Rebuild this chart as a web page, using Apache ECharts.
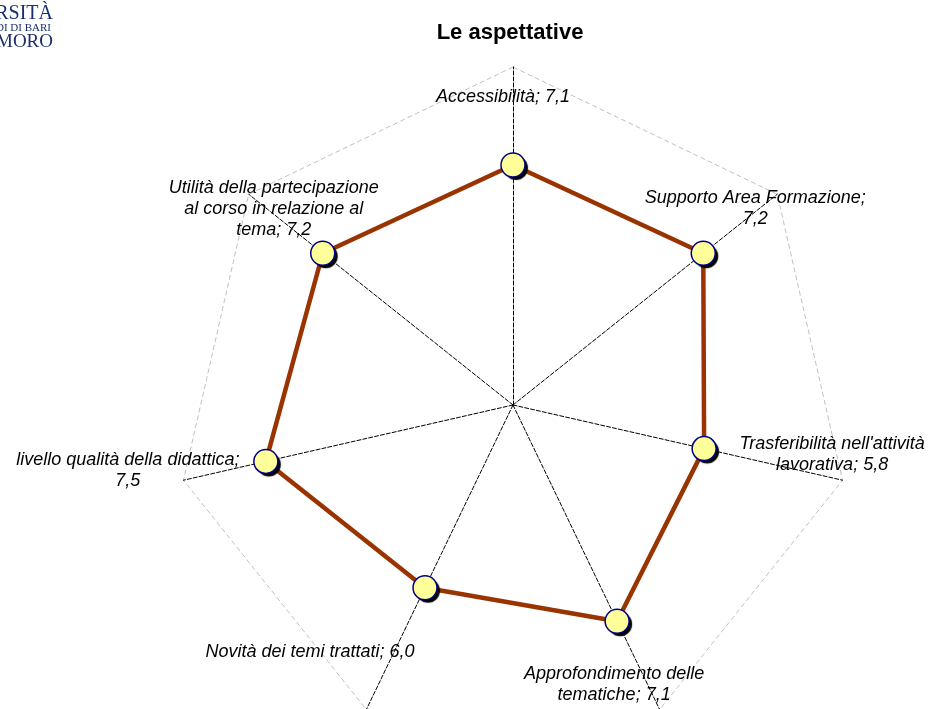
<!DOCTYPE html>
<html>
<head>
<meta charset="utf-8">
<script src="https://cdn.jsdelivr.net/npm/echarts@6/dist/echarts.min.js"></script>
<style>
html, body { margin: 0; padding: 0; background: #fff; }
#chart { width: 933px; height: 709px; }
</style>
</head>
<body>
<div id="chart"></div>
<script>
// categories, clockwise from the top
var categories = [
    'Accessibilità',
    'Supporto Area Formazione',
    "Trasferibilità nell'attività lavorativa",
    'Approfondimento delle tematiche',
    'Novità dei temi trattati',
    'livello qualità della didattica',
    'Utilità della partecipazione al corso in relazione al tema'
];
// label text as broken in the picture
var labelLines = [
    'Accessibilità; 7,1',
    'Supporto Area Formazione;\n7,2',
    "Trasferibilità nell'attività\nlavorativa; 5,8",
    'Approfondimento delle\ntematiche; 7,1',
    'Novità dei temi trattati; 6,0',
    'livello qualità della didattica;\n7,5',
    'Utilità della partecipazione\nal corso in relazione al\ntema; 7,2'
];
var values = [7.1, 7.2, 5.8, 7.1, 6.0, 7.5, 7.2];
var maxValue = 10;

var cx = 513, cy = 405, R = 338;
// label offsets from each point (px)
var labelOffsets = [[-10, -68], [52, -45], [128, 6], [-3, 63], [-115, 64], [-138, 9], [-49, -44]];

// echarts lays radar indicators out counter-clockwise, so reverse after the first
var order = [0, 6, 5, 4, 3, 2, 1];
var radarValues = order.map(function (k) { return values[k]; });

var myChart = echarts.init(document.getElementById('chart'));

var graphics = [];
var n = categories.length;
for (var i = 0; i < n; i++) {
    var a = i * 2 * Math.PI / n;
    var r = R * values[i] / maxValue;
    var px = cx + r * Math.sin(a);
    var py = cy - r * Math.cos(a);
    graphics.push({
        type: 'text',
        x: px + labelOffsets[i][0],
        y: py + labelOffsets[i][1],
        z: 100,
        style: {
            text: labelLines[i],
            font: 'italic 18px "Liberation Sans", Arial, sans-serif',
            fill: '#000',
            textAlign: 'center',
            textVerticalAlign: 'middle',
            lineHeight: 21
        }
    });
}
// cut-off logo in the corner
graphics.push(
    { type: 'text', x: 53, y: 14, style: { text: 'UNIVERSITÀ', font: '20px "Liberation Serif", serif', fill: '#1b2f6e', textAlign: 'right', textVerticalAlign: 'middle' } },
    { type: 'text', x: 51, y: 28, style: { text: 'DEGLI STUDI DI BARI', font: '11px "Liberation Serif", serif', fill: '#1b2f6e', textAlign: 'right', textVerticalAlign: 'middle' } },
    { type: 'text', x: 53, y: 42, style: { text: 'ALDO MORO', font: '19px "Liberation Serif", serif', fill: '#1b2f6e', textAlign: 'right', textVerticalAlign: 'middle' } }
);

var option = {
    animation: false,
    title: {
        text: 'Le aspettative',
        left: 505,
        top: 17,
        textAlign: 'center',
        textStyle: {
            fontFamily: '"Liberation Sans", Arial, sans-serif',
            fontWeight: 'bold',
            fontSize: 22,
            color: '#000'
        }
    },
    radar: {
        center: [cx, cy],
        radius: R,
        startAngle: 90,
        shape: 'polygon',
        splitNumber: 1,
        indicator: order.map(function (k) { return { name: categories[k], min: 0, max: maxValue }; }),
        axisName: { show: false },
        axisLine: { lineStyle: { color: '#000', type: [4, 2], width: 1 } },
        splitLine: { lineStyle: { color: '#c0c0c0', type: [5, 3], width: 1 } },
        splitArea: { show: false },
        axisTick: { show: false },
        axisLabel: { show: false }
    },
    series: [{
        // line + filled markers with their shadow
        type: 'radar',
        symbol: 'circle',
        symbolSize: 24,
        lineStyle: { color: '#993300', width: 4.5 },
        itemStyle: {
            color: '#FFFF99',
            borderWidth: 0,
            shadowColor: '#000',
            shadowOffsetX: 3,
            shadowOffsetY: 3,
            shadowBlur: 1
        },
        data: [{ name: 'Le aspettative', value: radarValues }]
    }, {
        // marker outlines only
        type: 'radar',
        silent: true,
        symbol: 'circle',
        symbolSize: 24,
        lineStyle: { opacity: 0 },
        itemStyle: {
            color: 'rgba(0,0,0,0)',
            borderColor: '#000080',
            borderWidth: 1.5
        },
        data: [{ name: 'Le aspettative', value: radarValues }]
    }],
    graphic: graphics
};
myChart.setOption(option);
</script>
</body>
</html>
